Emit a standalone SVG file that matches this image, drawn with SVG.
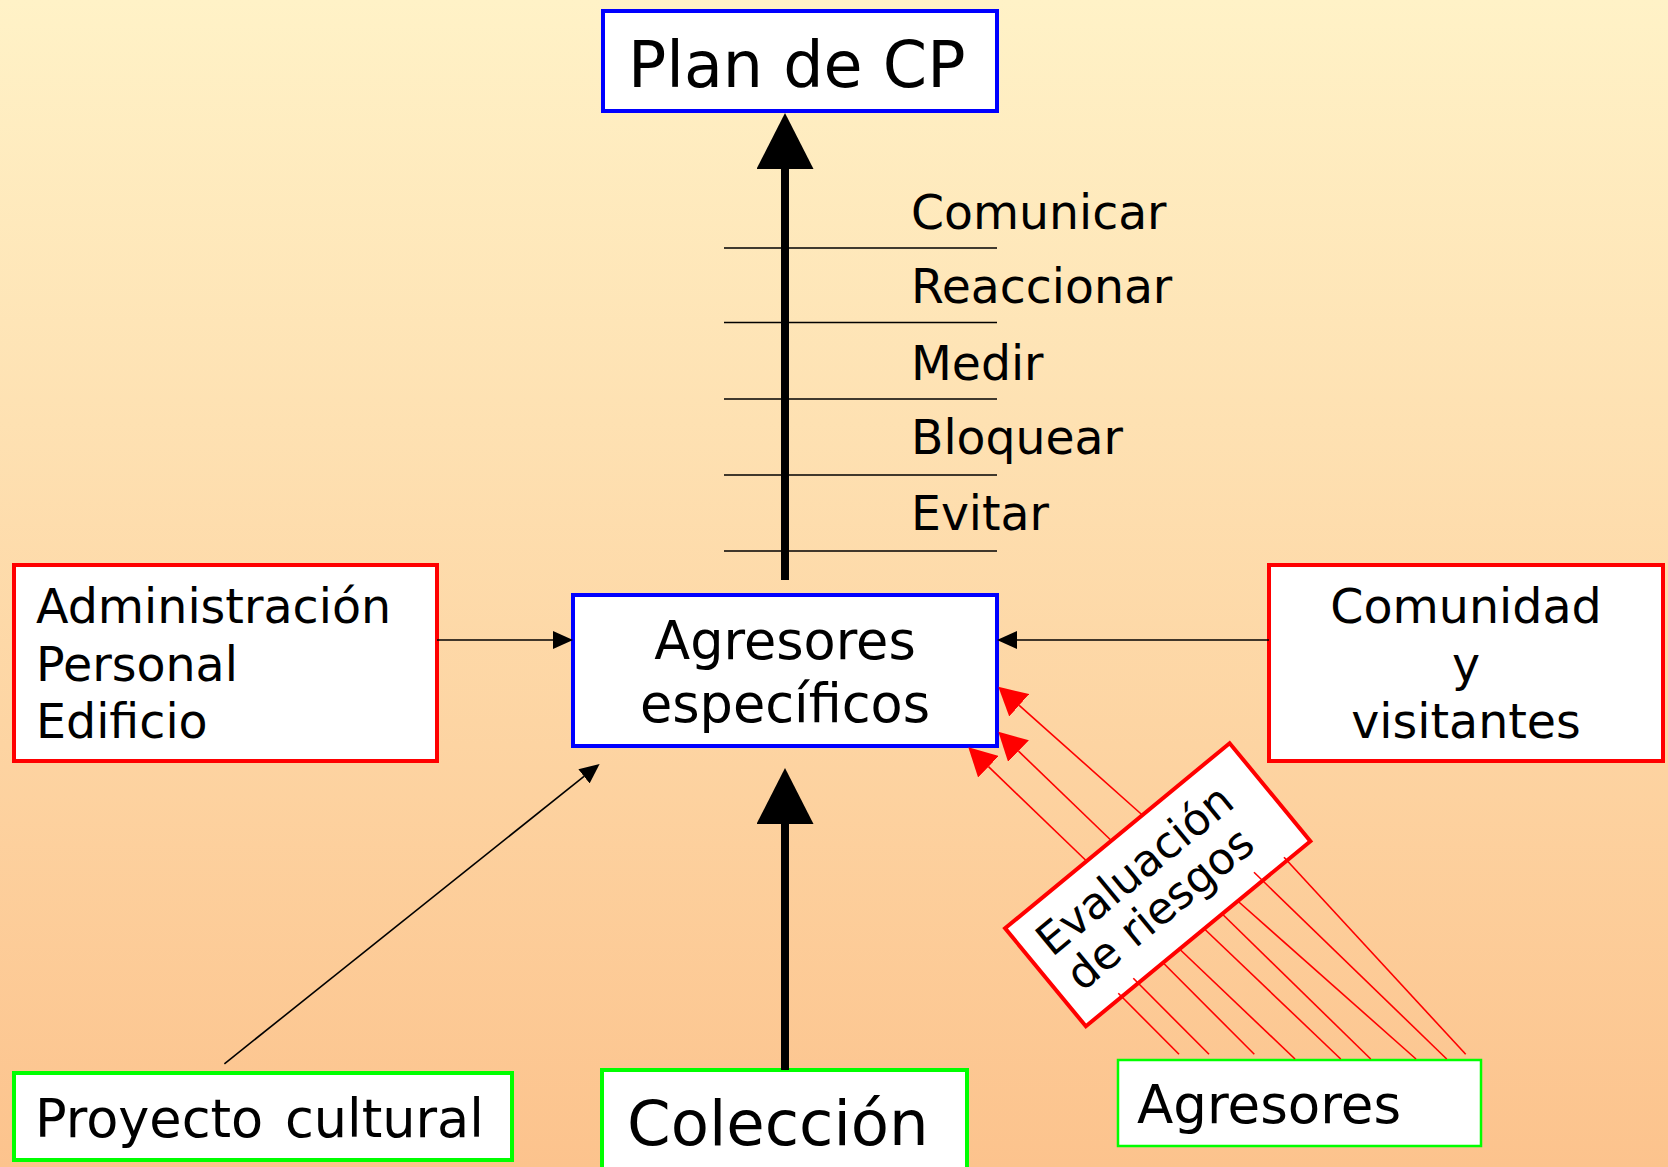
<svg xmlns="http://www.w3.org/2000/svg" width="1668" height="1167" viewBox="0 0 1668 1167">
  <style>
    text { font-family: "DejaVu Sans", Verdana, sans-serif; fill: #000; }
    .box { fill: #fff; }
    .blue { stroke: #0000ff; stroke-width: 4; }
    .red { stroke: #ff0000; stroke-width: 4; }
    .green { stroke: #00ff00; stroke-width: 4; }
    .thin { stroke: #000; stroke-width: 1.6; fill: none; }
    .thick { stroke: #000; stroke-width: 8; fill: none; }
    .rline { stroke: #ff0000; stroke-width: 1.6; fill: none; }
    .tick { stroke: #000; stroke-width: 1.6; }
  </style>
  <defs>
    <linearGradient id="bg" x1="0" y1="0" x2="0" y2="1">
      <stop offset="0" stop-color="#fff2c7"/>
      <stop offset="1" stop-color="#fcc38d"/>
    </linearGradient>
    <marker id="hThin" viewBox="0 0 20 18" refX="0" refY="9" markerWidth="20" markerHeight="18" markerUnits="userSpaceOnUse" orient="auto">
      <path d="M0,0 L20,9 L0,18 z" fill="#000"/>
    </marker>
    <marker id="hThick" viewBox="0 0 56 57" refX="0" refY="28.5" markerWidth="56" markerHeight="57" markerUnits="userSpaceOnUse" orient="auto">
      <path d="M0,0 L56,28.5 L0,57 z" fill="#000"/>
    </marker>
    <marker id="hRed" viewBox="0 0 28 30" refX="0" refY="15" markerWidth="28" markerHeight="30" markerUnits="userSpaceOnUse" orient="auto">
      <path d="M0,0 L28,15 L0,30 z" fill="#ff0000"/>
    </marker>
  </defs>
  <rect x="0" y="0" width="1668" height="1167" fill="url(#bg)"/>

  <g id="plan">
    <rect class="box blue" x="603" y="11" width="394" height="100"/>
    <text x="628" y="87" font-size="63.5">Plan de CP</text>
  </g>

  <g id="labels">
    <g class="tick">
      <line x1="724" y1="248" x2="997" y2="248"/>
      <line x1="724" y1="322.5" x2="997" y2="322.5"/>
      <line x1="724" y1="399" x2="997" y2="399"/>
      <line x1="724" y1="475" x2="997" y2="475"/>
      <line x1="724" y1="551" x2="997" y2="551"/>
    </g>
    <g font-size="47.3">
      <text x="911" y="229">Comunicar</text>
      <text x="911" y="303">Reaccionar</text>
      <text x="911" y="380">Medir</text>
      <text x="911" y="454">Bloquear</text>
      <text x="911" y="530">Evitar</text>
    </g>
  </g>

  <g id="agresores-especificos">
    <rect class="box blue" x="573" y="595" width="424" height="151"/>
    <text x="785" y="659" font-size="52.5" text-anchor="middle">Agresores</text>
    <text x="785" y="722" font-size="52.5" text-anchor="middle">específicos</text>
  </g>

  <g id="administracion">
    <rect class="box red" x="14" y="565" width="423" height="196"/>
    <text x="36" y="623" font-size="47.5">Administración</text>
    <text x="36" y="681" font-size="47.5">Personal</text>
    <text x="36" y="738" font-size="47.5">Edificio</text>
  </g>

  <g id="comunidad">
    <rect class="box red" x="1269" y="565" width="394" height="196"/>
    <text x="1466" y="623" font-size="47.5" text-anchor="middle">Comunidad</text>
    <text x="1466" y="681" font-size="47.5" text-anchor="middle">y</text>
    <text x="1466" y="738" font-size="47.5" text-anchor="middle">visitantes</text>
  </g>

  <g id="proyecto">
    <rect class="box green" x="14" y="1073" width="498" height="87"/>
    <text x="35" y="1137" font-size="52.5" word-spacing="5">Proyecto cultural</text>
  </g>

  <g id="coleccion">
    <rect class="box green" x="602" y="1070" width="365" height="120"/>
    <text x="627" y="1145" font-size="62.5">Colección</text>
  </g>

  <g id="agresores">
    <rect class="box" x="1118" y="1060" width="363" height="86" stroke="#00ff00" stroke-width="2.5"/>
    <text x="1137" y="1123" font-size="53">Agresores</text>
  </g>

  <g id="evaluacion" transform="translate(1157.75,884.75) rotate(-39.5)">
    <rect class="box red" x="-145.5" y="-63.5" width="291" height="127"/>
    <text x="-128" y="-11" font-size="44">Evaluación</text>
    <text x="-127" y="35" font-size="44">de riesgos</text>
  </g>

  <g id="connectors">
    <line class="thick" x1="785" y1="580" x2="785" y2="169" marker-end="url(#hThick)"/>
    <line class="thick" x1="785" y1="1070" x2="785" y2="824" marker-end="url(#hThick)"/>
    <line class="thin" x1="437" y1="640" x2="553" y2="640" marker-end="url(#hThin)"/>
    <line class="thin" x1="1269" y1="640" x2="1017" y2="640" marker-end="url(#hThin)"/>
    <line class="thin" x1="224.4" y1="1063.8" x2="584" y2="776.4" marker-end="url(#hThin)"/>
    <line class="rline" x1="1141.7" y1="814.5" x2="1019.2" y2="705.3" marker-end="url(#hRed)"/>
    <line class="rline" x1="1110.7" y1="840" x2="1018.5" y2="751.1" marker-end="url(#hRed)"/>
    <line class="rline" x1="1086" y1="860.5" x2="988.5" y2="766.7" marker-end="url(#hRed)"/>
    <line class="rline" x1="1118.3" y1="993.3" x2="1179" y2="1054.3"/>
    <line class="rline" x1="1133.3" y1="978.3" x2="1209" y2="1054.3"/>
    <line class="rline" x1="1163.3" y1="963" x2="1254.3" y2="1054.3"/>
    <line class="rline" x1="1180" y1="949.5" x2="1295" y2="1059"/>
    <line class="rline" x1="1205" y1="929.5" x2="1340.7" y2="1059"/>
    <line class="rline" x1="1223.3" y1="915" x2="1370.7" y2="1059"/>
    <line class="rline" x1="1238.3" y1="901.5" x2="1416" y2="1059"/>
    <line class="rline" x1="1254" y1="872.3" x2="1446.7" y2="1059"/>
    <line class="rline" x1="1284" y1="857.3" x2="1465.7" y2="1054.3"/>
  </g>
</svg>
